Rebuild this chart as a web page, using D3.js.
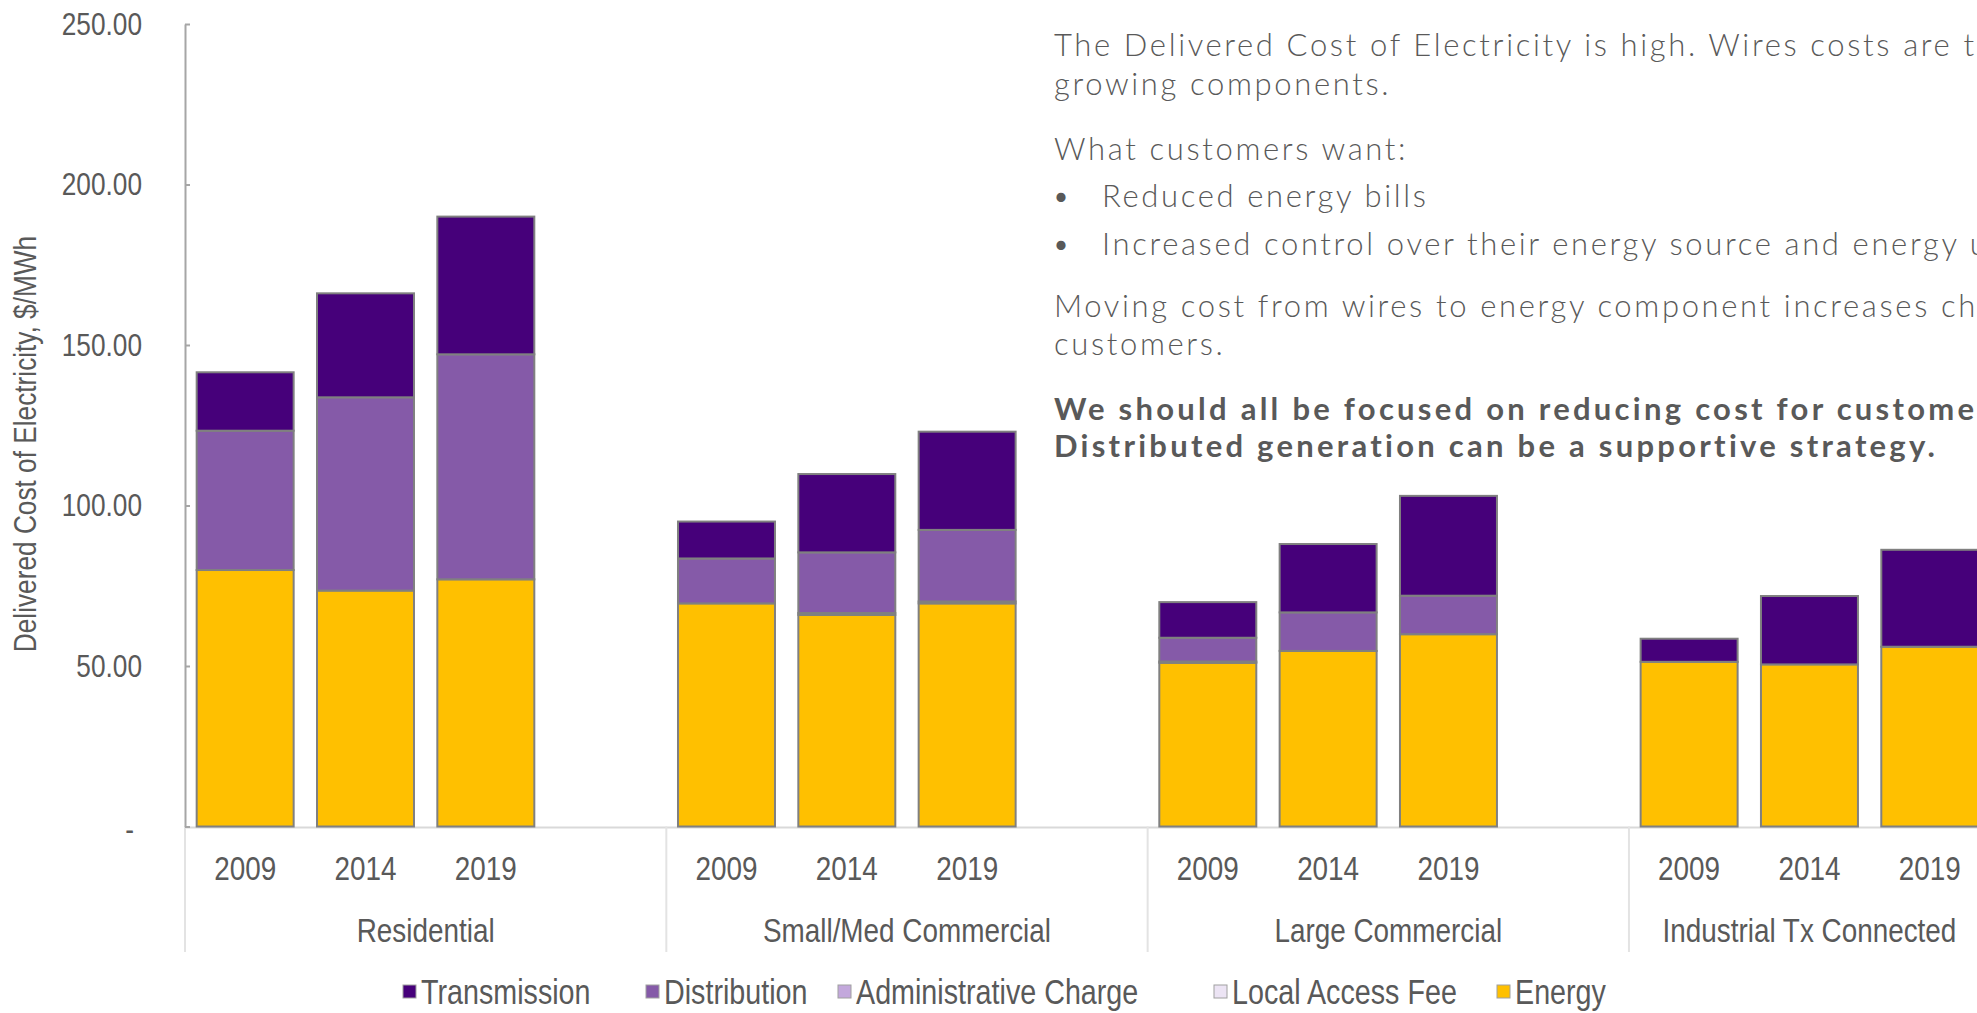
<!DOCTYPE html>
<html>
<head>
<meta charset="utf-8">
<script src="https://cdn.jsdelivr.net/npm/d3@7"></script>
<style>
  body { margin: 0; background: #fff; }
  svg { display: block; }
  .narrow { font-family: "Liberation Sans Narrow", "Arial Narrow", "Liberation Sans", sans-serif; fill: #595959; }
  .note { font-family: Lato, "Open Sans", sans-serif; font-weight: 300; fill: #595959; }
</style>
</head>
<body>
<div id="svgContainer"></div>
<script>
// categories
var groups = ["Residential", "Small/Med Commercial", "Large Commercial", "Industrial Tx Connected"];
var years = ["2009", "2014", "2019"];
var yTicks = [0, 50, 100, 150, 200, 250];

// series, legend order
var seriesNames = ["Transmission", "Distribution", "Administrative Charge", "Local Access Fee", "Energy"];
var seriesColors = ["#46007a", "#855aa8", "#c3a8dc", "#ece4f4", "#ffc000"];

// $/MWh, one value per bar: Residential 09/14/19, Small/Med 09/14/19, Large 09/14/19, Industrial 09/14/19
var energy       = [79.9, 73.5, 77.0, 69.5, 65.9, 69.5, 51.0, 54.7, 59.9, 51.3, 50.5, 56.0];
var localAccess  = [0, 0, 0, 0, 0, 0, 0, 0, 0, 0, 0, 0];
var adminCharge  = [0, 0, 0, 0, 0.6, 0.6, 0.4, 0, 0, 0, 0, 0];
var distribution = [43.4, 60.2, 70.1, 14.0, 18.9, 22.3, 7.4, 12.0, 12.0, 0, 0, 0];
var transmission = [18.2, 32.4, 42.9, 11.5, 24.4, 30.6, 11.1, 21.3, 31.1, 7.2, 21.3, 30.2];

var notes = [
  {t: "The Delivered Cost of Electricity is high. Wires costs are the fastest", y: 56},
  {t: "growing components.", y: 95},
  {t: "What customers want:", y: 160},
  {t: "Reduced energy bills", y: 207, bullet: true},
  {t: "Increased control over their energy source and energy use", y: 255, bullet: true},
  {t: "Moving cost from wires to energy component increases choice for", y: 317},
  {t: "customers.", y: 355},
  {t: "We should all be focused on reducing cost for customers.", y: 420, bold: true},
  {t: "Distributed generation can be a supportive strategy.", y: 457, bold: true}
];

var W = 1977, H = 1013;
var svg = d3.select("#svgContainer").append("svg")
    .attr("width", W)
    .attr("height", H);

// Arial Narrow look: use the narrow face if present, else squeeze Liberation Sans
var SQ = 1;
(function() {
  var a = svg.append("text").style("font-size", "40px")
      .style("font-family", "'Liberation Sans Narrow', 'Liberation Sans'").text("Residential 2009");
  var b = svg.append("text").style("font-size", "40px")
      .style("font-family", "'Liberation Sans'").text("Residential 2009");
  if (Math.abs(a.node().getComputedTextLength() - b.node().getComputedTextLength()) < 1) SQ = 0.82;
  a.remove(); b.remove();
})();
function squeeze(sel) {
  if (SQ === 1) return;
  sel.each(function() {
    var t = d3.select(this);
    var x = +t.attr("x") || 0;
    var tr = t.attr("transform") || "";
    t.attr("x", x / SQ).attr("transform", tr + " scale(" + SQ + ",1)");
  });
}

// build rows for the stack (bottom to top: energy first)
var keys = ["Energy", "Local Access Fee", "Administrative Charge", "Distribution", "Transmission"];
var rows = [];
var slots = [];   // category slots; an empty slot sits between groups
groups.forEach(function(g, gi) {
  years.forEach(function(yr, yi) {
    var i = gi * years.length + yi;
    slots.push(g + "|" + yr);
    rows.push({
      group: g, year: yr, slot: g + "|" + yr,
      "Energy": energy[i],
      "Local Access Fee": localAccess[i],
      "Administrative Charge": adminCharge[i],
      "Distribution": distribution[i],
      "Transmission": transmission[i]
    });
  });
  if (gi < groups.length - 1) slots.push(g + "|gap");
});
var stacked = d3.stack().keys(keys)(rows);
var color = d3.scaleOrdinal().domain(seriesNames).range(seriesColors);

// scales
var left = 185, step = 120.33;
var x = d3.scaleBand().domain(slots).range([left, left + step * slots.length])
    .paddingInner(0.194).paddingOuter(0.097);
var y = d3.scaleLinear().domain([0, 250]).range([826.5, 24]);

function groupStart(g) { return x(g + "|" + years[0]) - x.paddingOuter() * x.step(); }
function groupEnd(g) {
  var last = groups.indexOf(g) < groups.length - 1 ? g + "|gap" : g + "|" + years[years.length - 1];
  return x(last) + x.bandwidth() + x.paddingOuter() * x.step();
}

// category axis frame: baseline + group separators
svg.append("line")
    .attr("x1", left).attr("x2", x.range()[1])
    .attr("y1", y(0) + 1).attr("y2", y(0) + 1)
    .style("stroke", "#d9d9d9").style("stroke-width", 2);

svg.selectAll(".sep")
    .data(groups)
  .enter().append("line")
    .attr("class", "sep")
    .attr("x1", groupStart)
    .attr("x2", groupStart)
    .attr("y1", y(0)).attr("y2", 952)
    .style("stroke", "#e3e3e3").style("stroke-width", 2);

// bars
var layer = svg.selectAll(".layer")
    .data(stacked)
  .enter().append("g")
    .attr("class", "layer")
    .attr("fill", function(d) { return color(d.key); });

layer.selectAll("rect")
    .data(function(d) { return d.filter(function(s) { return s[1] - s[0] > 0; }); })
  .enter().append("rect")
    .attr("x", function(d) { return x(d.data.slot); })
    .attr("width", x.bandwidth())
    .attr("y", function(d) { return y(d[1]); })
    .attr("height", function(d) { return y(d[0]) - y(d[1]); })
    .style("stroke", "#808080")
    .style("stroke-width", 2);

// value axis
var yAxis = svg.append("g")
    .attr("transform", "translate(" + left + ",0)")
    .call(d3.axisLeft(y)
      .tickValues(yTicks)
      .tickSizeInner(-5)
      .tickSizeOuter(0)
      .tickPadding(43)
      .tickFormat(function(d) { return d === 0 ? "-" : d3.format(".2f")(d); }));
yAxis.select(".domain").style("stroke", "#a6a6a6").style("stroke-width", 2);
yAxis.selectAll(".tick line").style("stroke", "#a6a6a6").style("stroke-width", 2);
yAxis.selectAll(".tick text")
    .attr("class", "narrow")
    .style("font-size", "32px");
yAxis.selectAll(".tick").filter(function(d) { return d === 0; }).select("text")
    .attr("x", -51).attr("dy", "0.4em");
squeeze(yAxis.selectAll(".tick text"));

var yTitle = svg.append("text")
    .attr("class", "narrow")
    .attr("transform", "translate(25,444) rotate(-90)")
    .attr("text-anchor", "middle")
    .attr("dy", "0.35em")
    .style("font-size", "32px")
    .text("Delivered Cost of Electricity, $/MWh");
squeeze(yTitle);

// year labels and group labels
var yrLabels = svg.selectAll(".yr")
    .data(rows)
  .enter().append("text")
    .attr("class", "narrow")
    .attr("x", function(d) { return x(d.slot) + x.bandwidth() / 2; })
    .attr("y", 868)
    .attr("dy", "0.35em")
    .attr("text-anchor", "middle")
    .style("font-size", "34px")
    .text(function(d) { return d.year; });
squeeze(yrLabels);

var grpLabels = svg.selectAll(".grp")
    .data(groups)
  .enter().append("text")
    .attr("class", "narrow")
    .attr("x", function(d) { return (groupStart(d) + groupEnd(d)) / 2; })
    .attr("y", 930)
    .attr("dy", "0.35em")
    .attr("text-anchor", "middle")
    .style("font-size", "34px")
    .text(function(d) { return d; });
squeeze(grpLabels);

// legend
var legendX = [403, 646, 838, 1214, 1497];
var leg = svg.selectAll(".leg")
    .data(seriesNames)
  .enter().append("g")
    .attr("transform", function(d, i) { return "translate(" + legendX[i] + ",992)"; });
leg.append("rect")
    .attr("x", 0).attr("y", -7)
    .attr("width", 13).attr("height", 13)
    .attr("fill", function(d) { return color(d); })
    .style("stroke", "#a0a0a0").style("stroke-width", 1);
var legText = leg.append("text")
    .attr("class", "narrow")
    .attr("x", 18)
    .attr("dy", "0.35em")
    .style("font-size", "35px")
    .text(function(d) { return d; });
squeeze(legText);

// commentary text block on the right
var note = svg.selectAll(".note")
    .data(notes)
  .enter().append("text")
    .attr("class", "note")
    .attr("x", function(d) { return d.bullet ? 1102 : 1054; })
    .attr("y", function(d) { return d.y; })
    .style("font-size", "31px")
    .style("font-weight", function(d) { return d.bold ? 700 : 300; })
    .text(function(d) { return d.t; });

// Century Gothic is wider than Lato: open up the spacing so the lines reach
// the frame edge at the same words as on the slide
function spacingFor(str, weight, target) {
  var probe = svg.append("text").attr("class", "note")
      .style("font-size", "31px").style("font-weight", weight).text(str);
  var w = probe.node().getComputedTextLength();
  probe.remove();
  return Math.max(0, (target - w) / (str.length - 1));
}
var lsLight = spacingFor("The Delivered Cost of Electricity is high. Wires costs are t", 300, 920);
var lsBold = spacingFor("We should all be focused on reducing cost for custome", 700, 920);
note.style("letter-spacing", function(d) { return (d.bold ? lsBold : lsLight) + "px"; });

svg.selectAll(".bul")
    .data(notes.filter(function(d) { return d.bullet; }))
  .enter().append("text")
    .attr("class", "note")
    .attr("x", 1052)
    .attr("y", function(d) { return d.y; })
    .style("font-size", "31px")
    .text("\u2022");
</script>
</body>
</html>
